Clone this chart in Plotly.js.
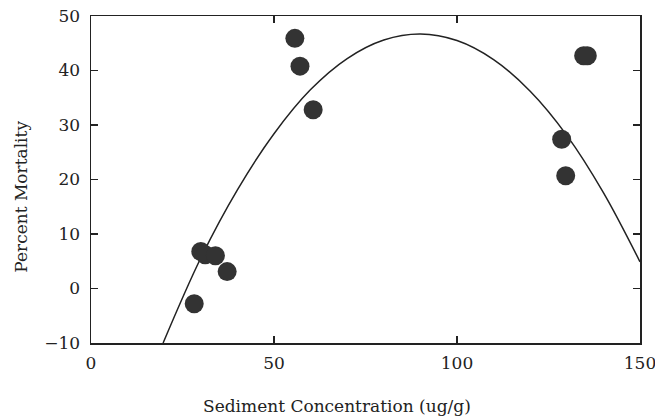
<!DOCTYPE html>
<html>
<head>
<meta charset="utf-8">
<script src="https://cdn.plot.ly/plotly-3.0.1.min.js"></script>
<style>html,body{margin:0;padding:0;background:#fff;}#chart{width:655px;height:418px;}</style>
</head>
<body>
<div id="chart"></div>
<script>
// Observed data points
var concentration = [28.2, 30.0, 31.2, 34.0, 37.2, 55.7, 57.1, 60.7, 128.6, 129.7, 134.6, 135.6];
var mortality = [-2.8, 6.8, 6.2, 6.0, 3.1, 45.9, 40.8, 32.8, 27.4, 20.7, 42.7, 42.7];

// Fitted curve
var curveX = [19.7, 30, 40, 50, 60, 70, 80, 90, 100, 110, 120, 130, 140, 150];
var curveY = [-10, 5.6, 18.1, 28.4, 36.5, 42.2, 45.6, 46.7, 45.5, 42.0, 36.2, 28.1, 17.6, 4.9];

var xTicks = [0, 50, 100, 150];
var yTicks = [-10, 0, 10, 20, 30, 40, 50];

var xTitle = 'Sediment Concentration (ug/g)';
var yTitle = 'Percent Mortality';

var fontFam = "DejaVu Serif, Liberation Serif, serif";

var traces = [
  {x: curveX, y: curveY, mode: 'lines', type: 'scatter',
   line: {color: '#222', width: 1.5, shape: 'spline', smoothing: 1}, hoverinfo: 'none'},
  {x: concentration, y: mortality, mode: 'markers', type: 'scatter',
   marker: {color: '#333', size: 19, line: {width: 0}}}
];

var axisCommon = {
  showgrid: false, zeroline: false, showline: true, linecolor: '#222', linewidth: 1.5,
  mirror: 'ticks', ticks: 'inside', ticklen: 7, tickwidth: 1.3, tickcolor: '#222',
  ticklabeloverflow: 'allow',
  tickfont: {family: fontFam, size: 17, color: '#222'}
};

var layout = {
  width: 655, height: 418,
  margin: {l: 91, r: 15, t: 16, b: 75},
  paper_bgcolor: '#fff', plot_bgcolor: '#fff',
  showlegend: false,
  xaxis: Object.assign({}, axisCommon, {
    range: [0, 150], tickmode: 'array', tickvals: xTicks, ticktext: xTicks.map(String),
    ticklabelstandoff: 4
  }),
  yaxis: Object.assign({}, axisCommon, {
    range: [-10, 50], tickmode: 'array', tickvals: yTicks,
    ticktext: yTicks.map(function(v){return v < 0 ? '\u2212' + Math.abs(v) : String(v);}),
    ticklabelstandoff: 6
  }),
  annotations: [
    {text: xTitle, xref: 'paper', yref: 'paper', x: 0.448, y: -0.193,
     xanchor: 'center', yanchor: 'middle', showarrow: false,
     font: {family: fontFam, size: 17, color: '#222'}},
    {text: yTitle, xref: 'paper', yref: 'paper', x: -0.129, y: 0.448, textangle: -90,
     xanchor: 'center', yanchor: 'middle', showarrow: false,
     font: {family: fontFam, size: 17, color: '#222'}}
  ]
};

Plotly.newPlot('chart', traces, layout, {displayModeBar: false, staticPlot: true});
</script>
</body>
</html>
